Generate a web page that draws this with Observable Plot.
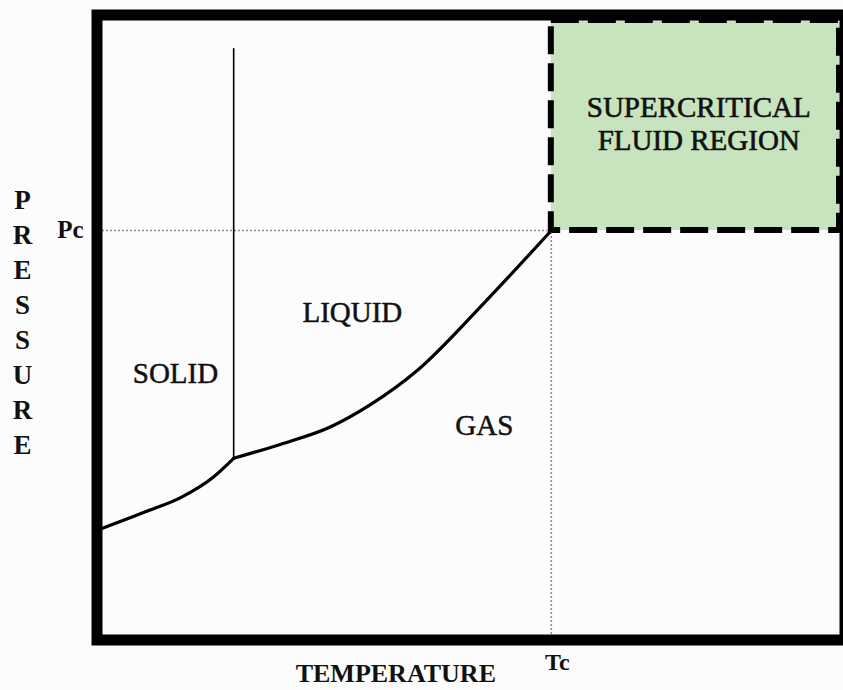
<!DOCTYPE html>
<html>
<head>
<meta charset="utf-8">
<script src="https://cdn.jsdelivr.net/npm/d3@7"></script>
<script src="https://cdn.jsdelivr.net/npm/@observablehq/plot@0.6"></script>
<style>
  html, body { margin: 0; padding: 0; background: #fcfcfc; }
  #chart { width: 843px; height: 690px; }
</style>
</head>
<body>
<div id="chart"></div>
<script>
// Critical point (temperature / pressure units, 0-100 frame)
const criticalT = 60.9;
const criticalP = 65.8;
const criticalLabels = ["Tc", "Pc"];

// Sublimation curve (solid-gas)
const sublimationT = [0, 6.1, 10.6, 15.1, 17.8];
const sublimationP = [17.3, 20.1, 22.3, 25.7, 28.7];

// Vaporization curve (liquid-gas), triple point to critical point
const vaporT = [17.8, 24.2, 30.9, 36.3, 42.7, 51.7, 60.9];
const vaporP = [28.7, 31.0, 33.8, 37.4, 43.0, 53.9, 65.8];

// Melting curve (solid-liquid)
const meltT = [17.8, 17.8];
const meltP = [28.7, 95.4];

// Region labels
const regionNames = ["SOLID", "LIQUID", "GAS"];
const regionT = [9.9, 33.9, 51.8];
const regionP = [42.5, 52.4, 34.0];

const superLines = ["SUPERCRITICAL", "FLUID REGION"];
const superT = [80.9, 80.9];
const superP = [85.8, 80.5];

const axisTitles = ["TEMPERATURE", "PRESSURE"];
const tempTitleT = 39.8;
const pressTitleP = 51.2;

const zip = (xs, ys) => xs.map((x, i) => ({T: x, P: ys[i]}));

const sublimation = zip(sublimationT, sublimationP);
const vapor = zip(vaporT, vaporP);
const melt = zip(meltT, meltP);
const regions = regionNames.map((n, i) => ({name: n, T: regionT[i], P: regionP[i]}));
const superText = superLines.map((n, i) => ({name: n, T: superT[i], P: superP[i]}));

const serif = "Liberation Serif, Times New Roman, serif";
const ink = "#111";

const chart = Plot.plot({
  width: 843,
  height: 690,
  marginLeft: 102,
  marginRight: 4,
  marginTop: 20,
  marginBottom: 56,
  style: {background: "#fcfcfc", fontFamily: serif, overflow: "visible"},
  x: {domain: [0, 100], axis: null},
  y: {domain: [0, 100], axis: null},
  marks: [
    // supercritical region
    Plot.rect([{x1: criticalT, x2: 100, y1: criticalP, y2: 100}], {
      x1: "x1", x2: "x2", y1: "y1", y2: "y2",
      fill: "#c8e4bf", stroke: "black", strokeWidth: 6, strokeDasharray: "28,9"
    }),
    // dotted guide lines
    Plot.ruleY([criticalP], {x1: 0, x2: criticalT, stroke: "#8a8a8a", strokeWidth: 1.5, strokeDasharray: "2,2"}),
    Plot.ruleX([criticalT], {y1: 0, y2: criticalP, stroke: "#8a8a8a", strokeWidth: 1.5, strokeDasharray: "2,2"}),
    // phase boundaries
    Plot.line(melt, {x: "T", y: "P", stroke: "black", strokeWidth: 1.6}),
    Plot.line(sublimation, {x: "T", y: "P", stroke: "black", strokeWidth: 3.2, curve: "monotone-x"}),
    Plot.line(vapor, {x: "T", y: "P", stroke: "black", strokeWidth: 3.2, curve: "monotone-x"}),
    // region labels
    Plot.text(regions, {x: "T", y: "P", text: "name", fontSize: 29, fill: ink, stroke: ink, strokeWidth: 0.5, fontFamily: serif}),
    Plot.text(superText, {x: "T", y: "P", text: "name", fontSize: 29, fill: ink, stroke: ink, strokeWidth: 0.6, fontFamily: serif}),
    // Tc / Pc labels
    Plot.text([criticalT], {x: d => d, frameAnchor: "bottom", lineAnchor: "middle", textAnchor: "middle", dy: 28, dx: 6, text: () => criticalLabels[0], fontSize: 24, fontWeight: "bold", fontFamily: serif, fill: ink}),
    Plot.text([criticalP], {y: d => d, frameAnchor: "left", lineAnchor: "middle", dx: -19, textAnchor: "end", text: () => criticalLabels[1], fontSize: 25, fontWeight: "bold", fontFamily: serif, fill: ink}),
    // axis titles
    Plot.text([tempTitleT], {x: d => d, frameAnchor: "bottom", lineAnchor: "middle", textAnchor: "middle", dy: 39, text: () => axisTitles[0], fontSize: 26, fontWeight: "bold", fontFamily: serif, fill: ink}),
    Plot.text([pressTitleP], {y: d => d, frameAnchor: "left", lineAnchor: "middle", textAnchor: "middle", dx: -80, text: () => axisTitles[1].split("").join("\n"), lineHeight: 1.3, fontSize: 27, fontWeight: "bold", fontFamily: serif, fill: ink}),
    // thick frame
    Plot.frame({stroke: "black", strokeWidth: 11, inset: -5.5})
  ]
});

document.getElementById("chart").appendChild(chart);
</script>
</body>
</html>
